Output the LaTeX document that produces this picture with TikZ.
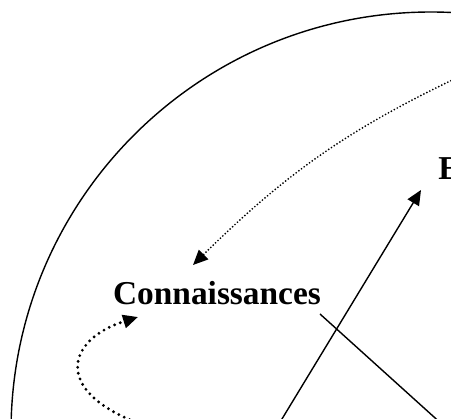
\documentclass[tikz,border=0pt]{standalone}
\usepackage{fontspec}
\setmainfont{Liberation Serif}
\usetikzlibrary{arrows.meta}

\begin{document}
\begin{tikzpicture}[x=0.02cm,y=-0.02cm,>={Triangle[length=8.5pt,width=7.5pt]},
mot/.style={font=\fontsize{19}{22}\selectfont\bfseries,inner sep=0pt},
trait/.style={line width=0.8pt},
pointille/.style={line width=1.1pt,dash pattern=on 0pt off 1.9pt,line cap=round},
grospoints/.style={line width=1.8pt,dash pattern=on 0pt off 3.4pt,line cap=round}]
\useasboundingbox(0,0)rectangle(451,419);
\clip(0,0)rectangle(451,419);
\draw[trait](431,432)circle[radius=420];
\node[mot,anchor=base](conn)at(217,305){Connaissances};
\node[mot,anchor=base west](e)at(438,180){E};
\coordinate(haut)at(478,68);
\coordinate(versconn)at(193,265);
\coordinate(bas1)at(268,442);
\coordinate(verse)at(421,190);
\coordinate(deconn)at(320,314);
\coordinate(bas2)at(465,445);
\coordinate(bas3)at(152,428);
\coordinate(boucle)at(138,317);
\draw[pointille,->](haut)to[bend right=10](versconn);
\draw[trait,->](bas1)--(verse);
\draw[trait](deconn)--(bas2);
\draw[grospoints,->](bas3)..controls(50,395)and(65,340)..(boucle);
\end{tikzpicture}
\end{document}
